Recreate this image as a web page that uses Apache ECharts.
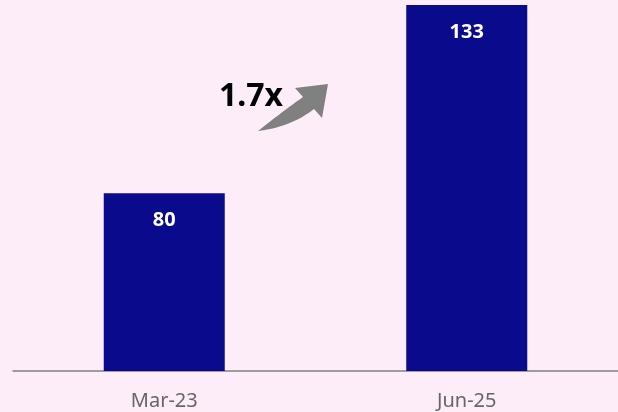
<!DOCTYPE html>
<html>
<head>
<meta charset="utf-8">
<script src="https://cdn.jsdelivr.net/npm/echarts@6/dist/echarts.min.js"></script>
<style>
    html, body { margin: 0; padding: 0; background: #fdedf8; }
    #chart { width: 618px; height: 412px; }
</style>
</head>
<body>
<div id="chart"></div>
<script>
var categories = ['Mar-23', 'Jun-25'];
var values = [80, 133];
var growthLabel = '1.7x';

// sample a quadratic curve into points for the arrow outline
function quad(p0, c, p1, n) {
    var pts = [];
    for (var i = 0; i <= n; i++) {
        var t = i / n, u = 1 - t;
        pts.push([
            u * u * p0[0] + 2 * u * t * c[0] + t * t * p1[0],
            u * u * p0[1] + 2 * u * t * c[1] + t * t * p1[1]
        ]);
    }
    return pts;
}
var arrowPts = quad([258, 131], [283, 111], [303, 97], 12)
    .concat([[295, 88], [328, 84], [322, 118]])
    .concat(quad([314, 109], [291, 127], [258, 131], 12));

var chart = echarts.init(document.getElementById('chart'));
var option = {
    backgroundColor: '#fdedf8',
    animation: false,
    grid: {
        left: 13,
        right: -2,
        top: 5,
        bottom: 41
    },
    xAxis: {
        type: 'category',
        data: categories,
        axisLine: { lineStyle: { color: '#808080', width: 1.5 } },
        axisTick: { show: false },
        axisLabel: {
            color: '#666666',
            fontSize: 20,
            fontFamily: 'Noto Sans',
            margin: 20
        }
    },
    yAxis: {
        type: 'value',
        min: 30,
        max: 133,
        show: false,
        splitLine: { show: false }
    },
    series: [
        {
            type: 'bar',
            data: values,
            barWidth: 121,
            itemStyle: { color: '#0a0a8c' },
            label: {
                show: true,
                position: 'insideTop',
                distance: 17,
                color: '#ffffff',
                fontSize: 20,
                fontWeight: 'bold',
                fontFamily: 'Noto Sans'
            }
        }
    ],
    graphic: [
        {
            type: 'text',
            x: 219,
            y: 81,
            style: {
                text: growthLabel,
                fill: '#000000',
                font: 'bold 32px "Noto Sans"'
            }
        },
        {
            type: 'polygon',
            shape: { points: arrowPts },
            style: { fill: '#808080' }
        }
    ]
};
chart.setOption(option);
window.onresize = chart.resize;
</script>
</body>
</html>
